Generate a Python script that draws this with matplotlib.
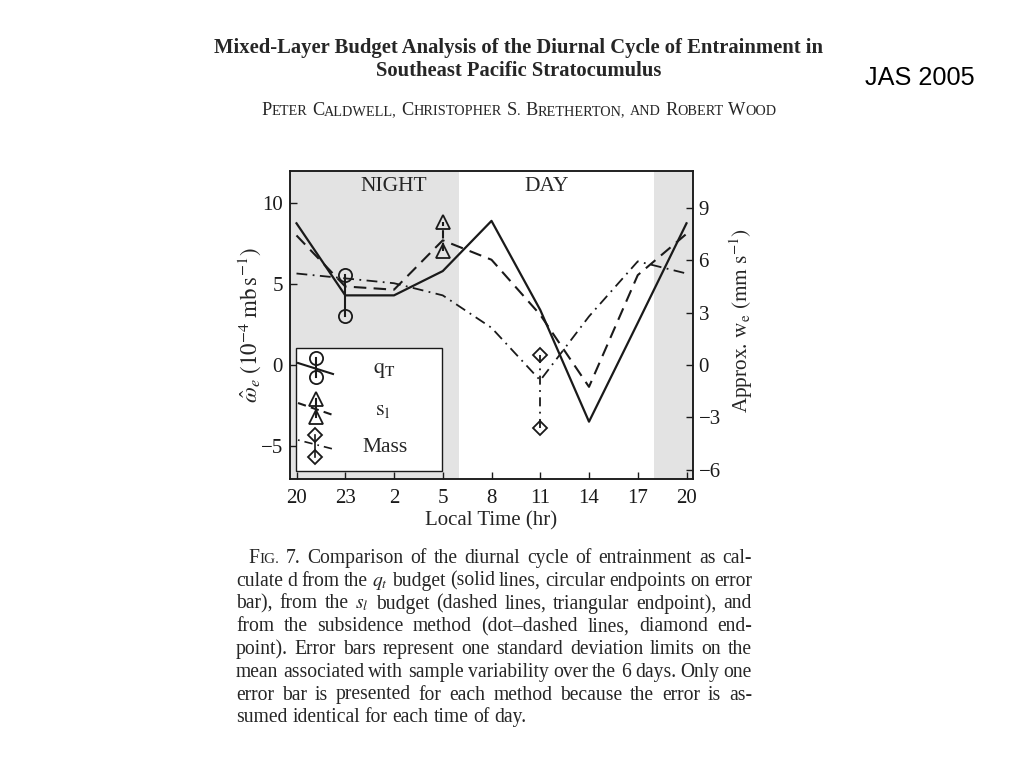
import matplotlib
matplotlib.use('Agg')
import matplotlib.pyplot as plt
import numpy as np

plt.rcParams['font.family'] = ['Liberation Serif', 'DejaVu Serif']
plt.rcParams['mathtext.fontset'] = 'stix'

# ---------------- data ----------------
hours = [0, 3, 6, 9, 12, 15, 18, 21, 24]          # hours after 20 LT
time_labels = ['20', '23', '2', '5', '8', '11', '14', '17', '20']
qt_we = [8.75, 4.3, 4.3, 5.8, 8.9, 3.4, -3.5, 2.6, 8.75]
sl_we = [8.0, 4.85, 4.65, 7.7, 6.5, 3.1, -1.35, 5.55, 8.1]
mass_we = [5.65, 5.35, 5.05, 4.3, 2.3, -0.95, 3.0, 6.4, 5.65]

qt_err_time, qt_err_lo, qt_err_hi = 3, 3.0, 5.55
sl_err_time, sl_err_lo, sl_err_hi = 9, 7.03, 8.85
mass_err_time, mass_err_lo, mass_err_hi = 15, -3.9, 0.6

night_span = (-0.4, 10)
night_span2 = (22, 24.4)
left_ticks = [-5, 0, 5, 10]
right_ticks = [-6, -3, 0, 3, 6, 9]
conv = 0.927   # 10^-4 mb/s -> mm/s

INK = '#1a1a1a'
TXT = '#262626'

fig = plt.figure(figsize=(10.24, 7.68), dpi=100)
R = fig.canvas.get_renderer()
W, H = 1024.0, 768.0


def fx(x):
    return x / W


def fy(y):
    return 1 - y / H


# ---------------- axes ----------------
ax = fig.add_axes([fx(290), fy(479), 403 / W, 308 / H])
ax.set_xlim(-0.4, 24.4)
ax.set_ylim(-7.04, 11.98)
ax.axvspan(*night_span, color='#e3e3e3', lw=0, zorder=0)
ax.axvspan(*night_span2, color='#e3e3e3', lw=0, zorder=0)

ax.plot(hours, qt_we, color=INK, lw=1.6, ls='-', zorder=3)
ax.plot(hours, sl_we, color=INK, lw=1.5, dashes=(6, 3.5), zorder=3)
ax.plot(hours, mass_we, color=INK, lw=1.3, dashes=(6, 3, 1, 3), zorder=3)

mk = dict(color=INK, mfc='none', mec=INK, mew=1.3, zorder=4)
ax.plot([qt_err_time, qt_err_time], [qt_err_lo, qt_err_hi], ls='-', lw=1.5,
        marker='o', ms=9.5, **mk)
ax.plot([sl_err_time, sl_err_time], [sl_err_lo, sl_err_hi], lw=1.5,
        dashes=(4, 2), marker='^', ms=10, **mk)
ax.plot([mass_err_time, mass_err_time], [mass_err_lo, mass_err_hi], lw=1.3,
        dashes=(5, 3, 1, 3), marker='D', ms=7, **mk)

ax.set_xticks(hours)
ax.set_xticklabels(time_labels)
ax.set_yticks(left_ticks)
ax.set_yticklabels([f'{t:g}'.replace('-', '\u2212') for t in left_ticks])
ax.tick_params(direction='in', length=5, width=1, labelsize=15, pad=5,
               colors=INK)
ax.tick_params(axis='x', pad=7)
for s in ax.spines.values():
    s.set_linewidth(1.1)
    s.set_color(INK)

ax.text(6, 11, 'NIGHT', ha='center', va='center', fontsize=15.5, color=TXT)
ax.text(15.4, 11, 'DAY', ha='center', va='center', fontsize=15.5, color=TXT)

ax.set_xlabel('Local Time (hr)', fontsize=15, color=TXT)
ax.xaxis.set_label_coords(0.5, (479 - 521) / 308)
ax.xaxis.label.set_va('center')

ax.set_ylabel(r'$\hat{\omega}_e\ (10^{-4}\ \mathrm{mb\,s^{-1}})$',
              fontsize=16.5, color=TXT)
ax.yaxis.set_label_coords((249 - 290) / 403, 0.50)
ax.yaxis.label.set_va('center')

ax2 = ax.twinx()
ax2.set_ylim(ax.get_ylim()[0] * conv, ax.get_ylim()[1] * conv)
ax2.set_yticks(right_ticks)
ax2.set_yticklabels([f'{t:g}'.replace('-', '\u2212') for t in right_ticks])
ax2.tick_params(direction='in', length=5, width=1, labelsize=15, pad=4,
                colors=INK)
for s in ax2.spines.values():
    s.set_linewidth(1.1)
    s.set_color(INK)
ax2.set_ylabel(r'Approx. $\mathrm{w_e}$ $(\mathrm{mm\ s^{-1}})$',
               fontsize=15.3, color=TXT)
ax2.yaxis.set_label_coords((741 - 290) / 403, 0.515)
ax2.yaxis.label.set_va('center')
ax2.yaxis.label.set_ha('center')

# ---------------- legend (drawn in axes coordinates) ----------------


def ax_x(p):
    return (p - 290) / 403


def ax_y(p):
    return (479 - p) / 308


T = ax.transAxes
ax.add_patch(plt.Rectangle((ax_x(296), ax_y(471)), ax_x(442) - ax_x(296),
                           ax_y(348) - ax_y(471), transform=T, fc='white',
                           ec=INK, lw=1.0, zorder=5))
lg = dict(transform=T, color=INK, zorder=6)
# q_T
ax.plot([ax_x(298), ax_x(333)], [ax_y(363), ax_y(374)], lw=1.5, ls='-', **lg)
ax.plot([ax_x(316), ax_x(316)], [ax_y(358), ax_y(377)], lw=1.5, marker='o',
        ms=9.5, mfc='none', mec=INK, mew=1.3, **lg)
ax.text(ax_x(373), ax_y(371), r'$\mathrm{q_T}$', transform=T, fontsize=16,
        va='center', ha='left', color=TXT, zorder=6)
# s_l
ax.plot([ax_x(298), ax_x(333)], [ax_y(403), ax_y(415)], lw=1.5,
        dashes=(4, 2.5), **lg)
ax.plot([ax_x(316), ax_x(316)], [ax_y(399), ax_y(417)], lw=1.5, marker='^',
        ms=10, mfc='none', mec=INK, mew=1.3, **lg)
ax.text(ax_x(375), ax_y(410), r'$\mathrm{s_l}$', transform=T, fontsize=16,
        va='center', ha='left', color=TXT, zorder=6)
# Mass
ax.plot([ax_x(298), ax_x(333)], [ax_y(440), ax_y(449)], lw=1.2,
        dashes=(1, 3, 5, 3), **lg)
ax.plot([ax_x(315), ax_x(315)], [ax_y(435), ax_y(457)], lw=1.2, marker='D',
        ms=7, mfc='none', mec=INK, mew=1.3, **lg)
ax.text(ax_x(362), ax_y(447), 'Mass', transform=T, fontsize=15.5,
        va='center', ha='left', color=TXT, zorder=6)

# ---------------- page text ----------------


def tw(s, size, **kw):
    t = fig.text(0, 0, s, fontsize=size, **kw)
    w = t.get_window_extent(R).width
    t.remove()
    return w


def smallcaps_runs(word, big, small):
    runs = []
    for ch in word:
        if ch.isupper():
            piece, size = ch, big
        else:
            piece, size = ch.upper(), small
        if runs and runs[-1][1] == size:
            runs[-1] = (runs[-1][0] + piece, size)
        else:
            runs.append((piece, size))
    return runs


def runs_width(runs, **kw):
    return sum(tw(s, sz, **kw) for s, sz in runs)


def draw_runs(runs, x, y, **kw):
    for s, sz in runs:
        fig.text(fx(x), fy(y), s, fontsize=sz, va='baseline', ha='left', **kw)
        x += tw(s, sz, **kw)
    return x


fig.text(fx(519), fy(48),
         'Mixed-Layer Budget Analysis of the Diurnal Cycle of Entrainment in',
         fontsize=14.9, fontweight='bold', ha='center', va='center', color=TXT)
fig.text(fx(519), fy(71), 'Southeast Pacific Stratocumulus',
         fontsize=14.9, fontweight='bold', ha='center', va='center', color=TXT)

fig.text(fx(920), fy(78), 'JAS 2005', fontsize=18.2, family='Liberation Sans',
         ha='center', va='center', color='black')

# authors in small caps, centred
authors = 'Peter Caldwell, Christopher S. Bretherton, and Robert Wood'.split()
big, small = 13.2, 10.3
sp = tw('a a', big) - tw('aa', big)
aw = [smallcaps_runs(w, big, small) for w in authors]
total = sum(runs_width(r) for r in aw) + sp * (len(aw) - 1)
x = 519 - total / 2
for r in aw:
    x = draw_runs(r, x, 115, color=TXT) + sp

# caption, justified
cap_lines = [
    'Fig. 7. Comparison of the diurnal cycle of entrainment as cal-',
    'culate d from the $q_t$ budget (solid lines, circular endpoints on error',
    'bar), from the $s_l$ budget (dashed lines, triangular endpoint), and',
    'from the subsidence method (dot\u2013dashed lines, diamond end-',
    'point). Error bars represent one standard deviation limits on the',
    'mean associated with sample variability over the 6 days. Only one',
    'error bar is presented for each method because the error is as-',
    'sumed identical for each time of day.',
]
cs = 14.1
csp = tw('a a', cs) - tw('aa', cs)
x1 = 752
for i, line in enumerate(cap_lines):
    y = 563 + 22.75 * i
    x0 = 248 if i == 0 else 236
    words = line.split(' ')
    wruns = []
    for j, w in enumerate(words):
        if i == 0 and j == 0:
            wruns.append(smallcaps_runs(w, cs, cs * 0.78))
        else:
            wruns.append([(w, cs)])
    widths = [runs_width(r) for r in wruns]
    if i < len(cap_lines) - 1:
        gap = (x1 - x0 - sum(widths)) / (len(words) - 1)
    else:
        gap = csp
    x = x0
    for r, wdt in zip(wruns, widths):
        draw_runs(r, x, y, color=TXT)
        x += wdt + gap

fig.savefig('out.png', dpi=100)
